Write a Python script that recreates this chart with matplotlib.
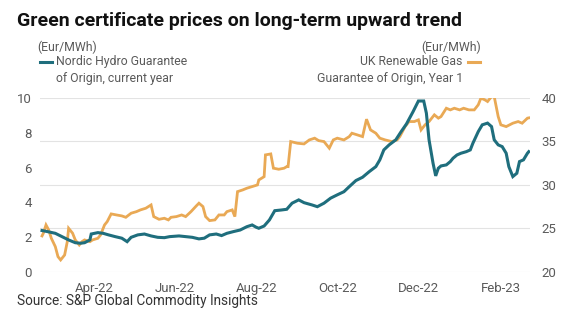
import numpy as np
import pandas as pd
import matplotlib
matplotlib.use("Agg")
import matplotlib.pyplot as plt
import matplotlib.dates as mdates

# Nordic Hydro GoO, current year (Eur/MWh, left axis)
nordic_dates = [
    "2022-02-21", "2022-02-25", "2022-03-03", "2022-03-08", "2022-03-13", "2022-03-18",
    "2022-03-22", "2022-03-25", "2022-03-29", "2022-03-30", "2022-04-04", "2022-04-08",
    "2022-04-12", "2022-04-17", "2022-04-22", "2022-04-26", "2022-04-29", "2022-05-04",
    "2022-05-09", "2022-05-14", "2022-05-19", "2022-05-24", "2022-05-28", "2022-06-04",
    "2022-06-09", "2022-06-14", "2022-06-19", "2022-06-23", "2022-06-27", "2022-07-02",
    "2022-07-06", "2022-07-10", "2022-07-15", "2022-07-20", "2022-07-25", "2022-07-29",
    "2022-08-01", "2022-08-03", "2022-08-07", "2022-08-11", "2022-08-15", "2022-08-20",
    "2022-08-24", "2022-08-28", "2022-09-02", "2022-09-06", "2022-09-12", "2022-09-16",
    "2022-09-21", "2022-09-26", "2022-10-01", "2022-10-06", "2022-10-10", "2022-10-15",
    "2022-10-20", "2022-10-25", "2022-10-30", "2022-11-02", "2022-11-05", "2022-11-09",
    "2022-11-14", "2022-11-18", "2022-11-22", "2022-11-27", "2022-12-01", "2022-12-05",
    "2022-12-07", "2022-12-09", "2022-12-12", "2022-12-14", "2022-12-16", "2022-12-18",
    "2022-12-22", "2022-12-25", "2022-12-27", "2022-12-30", "2023-01-02", "2023-01-06",
    "2023-01-09", "2023-01-11", "2023-01-15", "2023-01-18", "2023-01-22", "2023-01-25",
    "2023-01-27", "2023-01-30", "2023-02-02", "2023-02-05", "2023-02-07", "2023-02-10",
    "2023-02-13", "2023-02-15", "2023-02-18", "2023-02-21", "2023-02-22",
]
nordic_values = [
    2.38, 2.32, 2.22, 2.03, 1.84, 1.68,
    1.65, 1.68, 1.84, 2.18, 2.26, 2.22,
    2.13, 2.03, 1.94, 1.74, 1.99, 2.13,
    2.18, 2.07, 1.99, 1.97, 2.03, 2.07,
    2.03, 1.99, 1.90, 1.94, 2.13, 2.18,
    2.09, 2.22, 2.32, 2.41, 2.60, 2.70,
    2.57, 2.51, 2.64, 2.99, 3.52, 3.56,
    3.60, 3.95, 4.14, 3.98, 3.85, 3.75,
    3.95, 4.24, 4.43, 4.61, 4.90, 5.25,
    5.44, 5.76, 6.05, 6.44, 7.01, 7.30,
    7.59, 8.06, 8.50, 9.21, 9.82, 9.82,
    9.12, 7.59, 6.25, 5.52, 5.96, 6.09,
    6.15, 6.34, 6.53, 6.72, 6.82, 6.91,
    7.01, 7.40, 8.06, 8.45, 8.55, 8.35,
    7.59, 7.30, 7.20, 6.82, 6.05, 5.48,
    5.67, 6.34, 6.44, 6.82, 6.91,
]

# UK Renewable Gas GoO, Year 1 (Eur/MWh, right axis)
uk_dates = [
    "2022-02-21", "2022-02-22", "2022-02-24", "2022-02-26", "2022-02-28", "2022-03-03",
    "2022-03-05", "2022-03-07", "2022-03-10", "2022-03-12", "2022-03-13", "2022-03-16",
    "2022-03-18", "2022-03-21", "2022-03-23", "2022-03-25", "2022-03-29", "2022-03-31",
    "2022-04-04", "2022-04-06", "2022-04-09", "2022-04-11", "2022-04-14", "2022-04-18",
    "2022-04-22", "2022-04-25", "2022-04-29", "2022-05-03", "2022-05-06", "2022-05-10",
    "2022-05-14", "2022-05-16", "2022-05-20", "2022-05-24", "2022-05-27", "2022-05-29",
    "2022-06-02", "2022-06-06", "2022-06-09", "2022-06-13", "2022-06-17", "2022-06-19",
    "2022-06-22", "2022-06-24", "2022-06-27", "2022-07-01", "2022-07-04", "2022-07-08",
    "2022-07-10", "2022-07-14", "2022-07-16", "2022-07-18", "2022-07-22", "2022-07-25",
    "2022-07-29", "2022-08-02", "2022-08-03", "2022-08-07", "2022-08-08", "2022-08-12",
    "2022-08-14", "2022-08-18", "2022-08-22", "2022-08-24", "2022-08-25", "2022-08-27",
    "2022-09-01", "2022-09-06", "2022-09-10", "2022-09-14", "2022-09-17", "2022-09-21",
    "2022-09-25", "2022-09-28", "2022-10-01", "2022-10-06", "2022-10-10", "2022-10-12",
    "2022-10-16", "2022-10-20", "2022-10-23", "2022-10-26", "2022-10-30", "2022-11-02",
    "2022-11-06", "2022-11-11", "2022-11-15", "2022-11-17", "2022-11-21", "2022-11-24",
    "2022-11-28", "2022-12-01", "2022-12-03", "2022-12-06", "2022-12-09", "2022-12-13",
    "2022-12-16", "2022-12-18", "2022-12-22", "2022-12-25", "2022-12-28", "2023-01-01",
    "2023-01-04", "2023-01-08", "2023-01-12", "2023-01-15", "2023-01-17", "2023-01-20",
    "2023-01-22", "2023-01-25", "2023-01-27", "2023-01-30", "2023-02-01", "2023-02-05",
    "2023-02-10", "2023-02-14", "2023-02-17", "2023-02-21", "2023-02-22",
]
uk_values = [
    24.14, 24.45, 25.40, 24.83, 23.87, 22.91,
    21.76, 21.38, 21.95, 23.48, 25.02, 24.45,
    23.68, 23.10, 23.48, 23.68, 23.48, 23.68,
    23.87, 24.25, 25.40, 25.78, 26.67, 26.55,
    26.44, 26.28, 26.75, 26.93, 27.13, 27.32,
    27.70, 26.36, 26.05, 26.17, 25.98, 26.28,
    26.36, 26.55, 26.36, 26.93, 27.59, 27.90,
    27.51, 26.36, 25.90, 25.98, 26.55, 26.55,
    26.93, 27.13, 26.36, 29.23, 29.43, 29.62,
    29.81, 30.00, 30.57, 30.95, 33.45, 33.56,
    31.92, 31.80, 31.92, 32.10, 32.10, 34.98,
    34.79, 34.71, 35.17, 35.37, 35.09, 34.98,
    34.22, 35.17, 35.37, 35.17, 35.55, 35.94,
    35.75, 35.55, 37.55, 36.32, 35.94, 35.37,
    35.17, 34.98, 35.17, 35.55, 36.70, 37.28,
    37.28, 37.47, 36.32, 36.90, 37.28, 38.05,
    37.67, 37.85, 38.81, 38.62, 38.81, 38.62,
    38.81, 38.62, 38.62, 39.20, 39.97, 39.77,
    39.58, 40.15, 40.15, 37.85, 36.90, 36.70,
    37.09, 37.28, 37.09, 37.67, 37.70,
]

left_ticks = [0, 2, 4, 6, 8, 10]
right_ticks = [20, 25, 30, 35, 40]
month_ticks = ["2022-04-01", "2022-06-01", "2022-08-01", "2022-10-01", "2022-12-01", "2023-02-01"]

BLUE = "#1f6e7d"
ORANGE = "#e9a955"
GREY = "#5a5a5a"

plt.rcParams["font.family"] = ["Roboto", "DejaVu Sans"]

fig = plt.figure(figsize=(5.8, 3.23), dpi=100)
ax = fig.add_axes([0.069, 0.158, 0.845, 0.539])
ax2 = ax.twinx()

ax2.plot(pd.to_datetime(uk_dates), uk_values, color=ORANGE, lw=2.0, solid_joinstyle="miter")
ax.plot(pd.to_datetime(nordic_dates), nordic_values, color=BLUE, lw=2.2, solid_joinstyle="miter")
# teal line drawn over the orange one
ax.set_zorder(ax2.get_zorder() + 1)
ax.patch.set_visible(False)

ax.set_ylim(0, 10)
ax2.set_ylim(20, 40)
ax.set_yticks(left_ticks)
ax2.set_yticks(right_ticks)
ax.set_xlim(pd.Timestamp("2022-02-19 12:00"), pd.Timestamp("2023-02-23"))
ax.set_xticks(pd.to_datetime(month_ticks))
ax.xaxis.set_major_formatter(mdates.DateFormatter("%b-%y"))

ax2.grid(axis="y", color="#e3e3e3", lw=0.8)
ax2.set_axisbelow(True)
for a in (ax, ax2):
    for s in a.spines.values():
        s.set_visible(False)
ax.tick_params(axis="both", length=0, labelsize=9.5, labelcolor=GREY)
ax.tick_params(axis="y", pad=6)
ax.tick_params(axis="x", pad=7)
ax2.tick_params(axis="y", length=0, labelsize=9.5, labelcolor=GREY, pad=8)

fig.text(0.029, 0.935, "Green certificate prices on long-term upward trend",
         fontsize=14.0, fontweight="bold", color="#111111", va="center")
fig.text(0.064, 0.853, "(Eur/MWh)", fontsize=8.8, color=GREY, va="center")
fig.text(0.829, 0.853, "(Eur/MWh)", fontsize=8.8, color=GREY, va="center", ha="right")

fig.add_artist(plt.Line2D([0.069, 0.090], [0.808, 0.808], color=BLUE, lw=2.2))
fig.text(0.097, 0.830, "Nordic Hydro Guarantee\nof Origin, current year", fontsize=8.8,
         color=GREY, va="top", ha="left", linespacing=1.45)
fig.add_artist(plt.Line2D([0.807, 0.828], [0.808, 0.808], color=ORANGE, lw=2.2))
fig.text(0.798, 0.830, "UK Renewable Gas\nGuarantee of Origin, Year 1", fontsize=8.8,
         color=GREY, va="top", ha="right", multialignment="right", linespacing=1.45)

fig.text(0.029, 0.068, "Source: S&P Global Commodity Insights", fontsize=9.8,
         color="#333333", va="center")

fig.savefig("out.png", dpi=100, facecolor="white")
